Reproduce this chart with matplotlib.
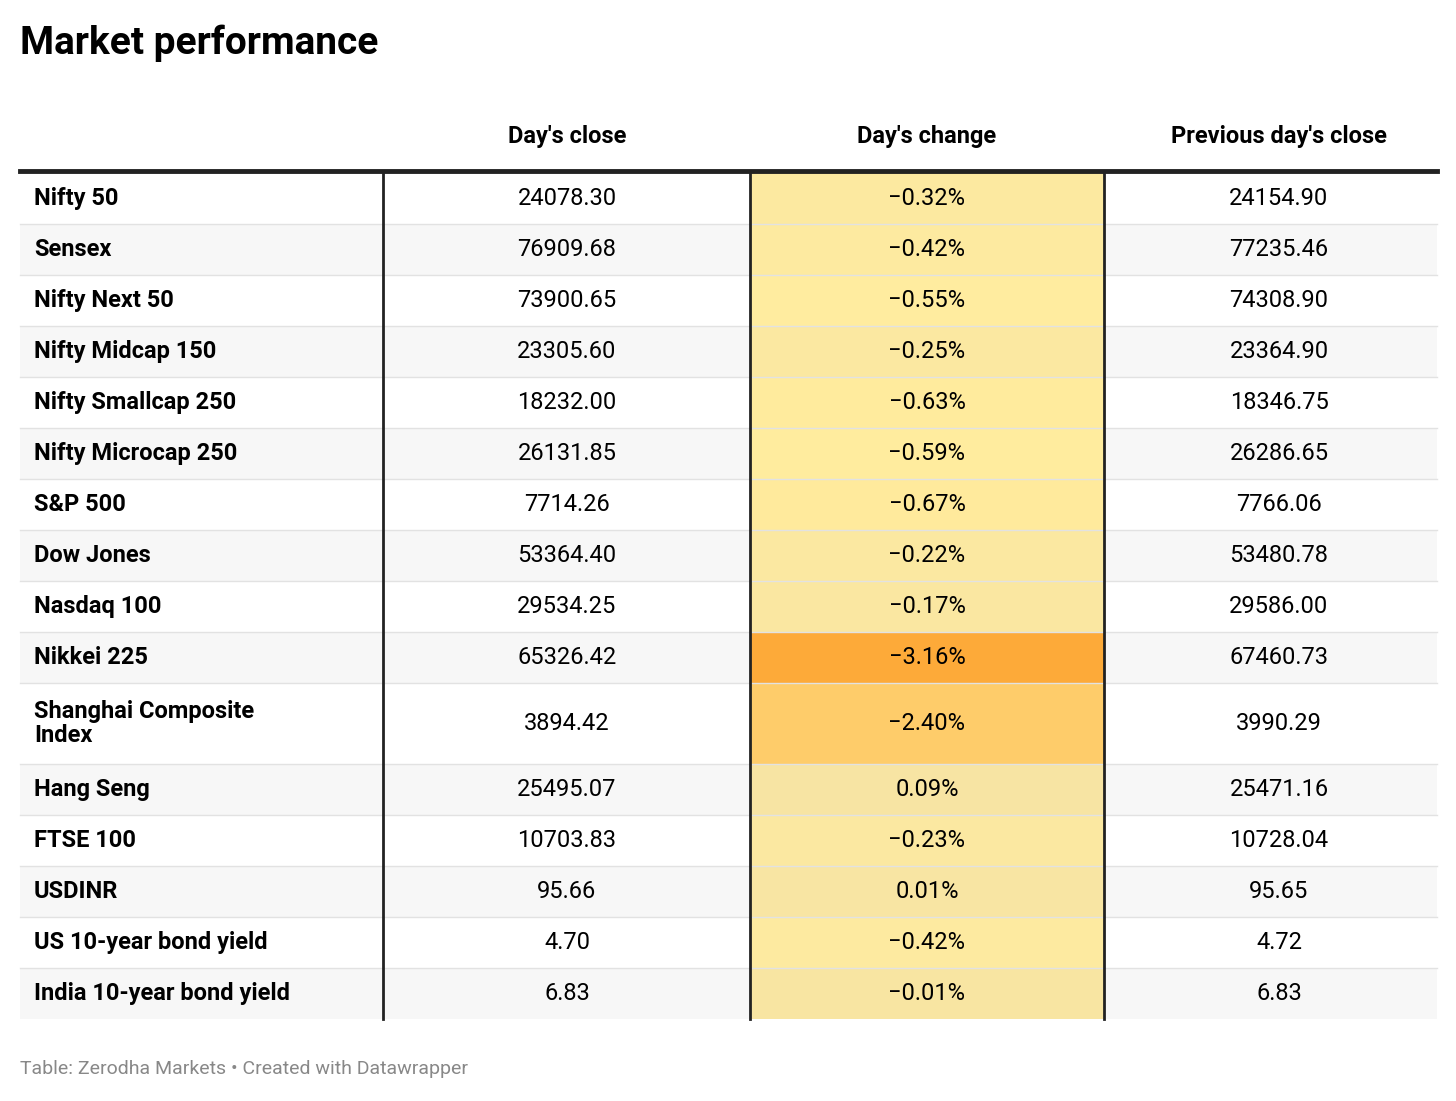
import matplotlib.pyplot as plt
import matplotlib.colors as mcolors
import matplotlib.patches as mpatches

plt.rcParams['font.family'] = ['Roboto', 'DejaVu Sans']

names = ['Nifty 50', 'Sensex', 'Nifty Next 50', 'Nifty Midcap 150', 'Nifty Smallcap 250',
         'Nifty Microcap 250', 'S&P 500', 'Dow Jones', 'Nasdaq 100', 'Nikkei 225',
         'Shanghai Composite\nIndex', 'Hang Seng', 'FTSE 100', 'USDINR',
         'US 10-year bond yield', 'India 10-year bond yield']
close = ['24078.30', '76909.68', '73900.65', '23305.60', '18232.00', '26131.85', '7714.26',
         '53364.40', '29534.25', '65326.42', '3894.42', '25495.07', '10703.83', '95.66',
         '4.70', '6.83']
change = [-0.32, -0.42, -0.55, -0.25, -0.63, -0.59, -0.67, -0.22, -0.17, -3.16, -2.40,
          0.09, -0.23, 0.01, -0.42, -0.01]
prev = ['24154.90', '77235.46', '74308.90', '23364.90', '18346.75', '26286.65', '7766.06',
        '53480.78', '29586.00', '67460.73', '3990.29', '25471.16', '10728.04', '95.65',
        '4.72', '6.83']
headers = ["Day's close", "Day's change", "Previous day's close"]

W, H = 1456, 1101
fig = plt.figure(figsize=(W / 100, H / 100), dpi=100)
ax = fig.add_axes([0, 0, 1, 1])
ax.set_xlim(0, W)
ax.set_ylim(H, 0)
ax.axis('off')

cmap = mcolors.LinearSegmentedColormap.from_list(
    'chg', [(0, '#fdaa39'), (0.25, '#fecf6e'), (0.8, '#ffec9f'), (1, '#f7e4a3')])
norm = mcolors.Normalize(vmin=-3.16, vmax=0.09)

left, right = 20, 1437
seps = [383, 750, 1104]
centers = [567, 927, 1279]
fs = 17

ax.text(20, 43, 'Market performance', fontsize=28, fontweight='bold', va='center')
for c, h in zip(centers, headers):
    ax.text(c, 137, h, fontsize=fs, fontweight='bold', ha='center', va='center')

y = 173
for i, n in enumerate(names):
    rh = 81 if '\n' in n else 51
    bg = '#ffffff' if i % 2 == 0 else '#f7f7f7'
    ax.add_patch(mpatches.Rectangle((left, y), right - left, rh, color=bg, lw=0))
    ax.add_patch(mpatches.Rectangle((seps[1], y), seps[2] - seps[1], rh,
                                    color=cmap(norm(change[i])), lw=0))
    if i > 0:
        ax.plot([left, right], [y, y], color='#e2e2e2', lw=1)
    cy = y + rh / 2
    ax.text(34, cy, n, fontsize=fs, fontweight='bold', va='center', linespacing=1.1)
    ax.text(centers[0], cy, close[i], fontsize=fs, ha='center', va='center')
    ax.text(centers[1], cy, f'{change[i]:.2f}%'.replace('-', '\u2212'),
            fontsize=fs, ha='center', va='center')
    ax.text(centers[2], cy, prev[i], fontsize=fs, ha='center', va='center')
    y += rh

for s in seps:
    ax.plot([s, s], [173, y], color='#222222', lw=2)
ax.plot([left, right], [171, 171], color='#222222', lw=3.5)

ax.text(20, 1069, 'Table: Zerodha Markets \u2022 Created with Datawrapper',
        fontsize=14, color='#888888', va='center')

fig.savefig('out.png', dpi=100)
